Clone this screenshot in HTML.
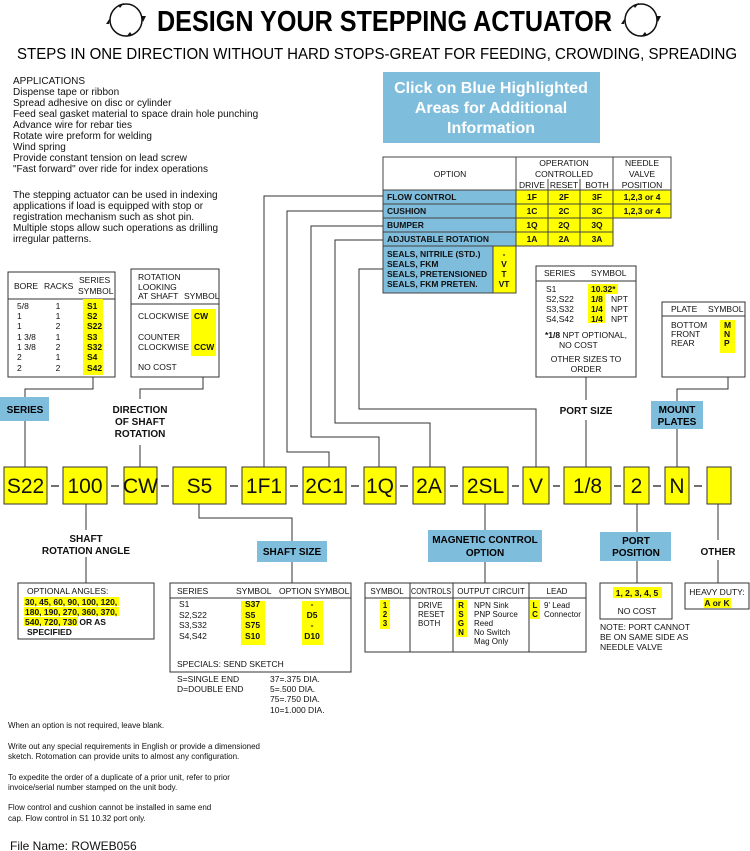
<!DOCTYPE html>
<html><head><meta charset="utf-8"><style>
html,body{margin:0;padding:0;background:#fff;}
svg{display:block;font-family:"Liberation Sans",Arial,sans-serif;}
.b{font-weight:bold}
</style></head><body>
<svg width="750" height="851" viewBox="0 0 750 851" xmlns="http://www.w3.org/2000/svg">
<rect width="750" height="851" fill="#fff"/>
<!-- title -->
<g fill="none" stroke="#111" stroke-width="1.5">
<circle cx="126" cy="20" r="16"/><circle cx="641" cy="20" r="16"/>
</g>
<g fill="#111">
<path d="M118,5 l6,-2 -4,5z"/><path d="M141,16 l2,6 3,-6z"/><path d="M132,35 l-6,2 4,-5z"/><path d="M109,24 l1,-6 -4,6z"/>
<path d="M633,5 l6,-2 -4,5z"/><path d="M656,16 l2,6 3,-6z"/><path d="M647,35 l-6,2 4,-5z"/><path d="M624,24 l1,-6 -4,6z"/>
</g>
<text x="157" y="31" font-size="29" class="b" textLength="455" lengthAdjust="spacingAndGlyphs">DESIGN YOUR STEPPING ACTUATOR</text>
<text x="17" y="59" font-size="16" textLength="720" lengthAdjust="spacingAndGlyphs">STEPS IN ONE DIRECTION WITHOUT HARD STOPS-GREAT FOR FEEDING, CROWDING, SPREADING</text>
<!-- applications -->
<g font-size="10" fill="#111">
<text x="13" y="84">APPLICATIONS</text>
<text x="13" y="95">Dispense tape or ribbon</text>
<text x="13" y="106">Spread adhesive on disc or cylinder</text>
<text x="13" y="117">Feed seal gasket material to space drain hole punching</text>
<text x="13" y="128">Advance wire for rebar ties</text>
<text x="13" y="139">Rotate wire preform for welding</text>
<text x="13" y="150">Wind spring</text>
<text x="13" y="161">Provide constant tension on lead screw</text>
<text x="13" y="172">"Fast forward" over ride for index operations</text>
<text x="13" y="198">The stepping actuator can be used in indexing</text>
<text x="13" y="209">applications if load is equipped with stop or</text>
<text x="13" y="220">registration mechanism such as shot pin.</text>
<text x="13" y="231">Multiple stops allow such operations as drilling</text>
<text x="13" y="242">irregular patterns.</text>
</g>
<!-- blue button -->
<rect x="383" y="72" width="217" height="71" fill="#7fbddc"/>
<g fill="#fff" font-size="16" class="b" text-anchor="middle">
<text x="491" y="93">Click on Blue Highlighted</text>
<text x="491" y="113">Areas for Additional</text>
<text x="491" y="133">Information</text>
</g>
<!-- option table -->
<g stroke="#444" stroke-width="1" fill="none">
<rect x="383" y="157" width="288" height="33"/>
<line x1="516" y1="157" x2="516" y2="190"/><line x1="613" y1="157" x2="613" y2="190"/>
<line x1="548" y1="179" x2="548" y2="190"/><line x1="580" y1="179" x2="580" y2="190"/>
</g>
<g font-size="8.5" text-anchor="middle" fill="#111">
<text x="450" y="177">OPTION</text>
<text x="564" y="166">OPERATION</text><text x="564" y="177">CONTROLLED</text>
<text x="532" y="188">DRIVE</text><text x="564" y="188">RESET</text><text x="597" y="188">BOTH</text>
<text x="642" y="166">NEEDLE</text><text x="642" y="177">VALVE</text><text x="642" y="188">POSITION</text>
</g>
<g stroke="#444" stroke-width="1">
<rect x="383" y="190" width="133" height="14" fill="#7fbddc"/>
<rect x="383" y="204" width="133" height="14" fill="#7fbddc"/>
<rect x="383" y="218" width="133" height="14" fill="#7fbddc"/>
<rect x="383" y="232" width="133" height="14" fill="#7fbddc"/>
<rect x="383" y="246" width="110" height="47" fill="#7fbddc"/>
<rect x="493" y="246" width="23" height="47" fill="#ffff00"/>
<rect x="516" y="190" width="32" height="14" fill="#ffff00"/><rect x="548" y="190" width="32" height="14" fill="#ffff00"/><rect x="580" y="190" width="33" height="14" fill="#ffff00"/><rect x="613" y="190" width="58" height="14" fill="#ffff00"/>
<rect x="516" y="204" width="32" height="14" fill="#ffff00"/><rect x="548" y="204" width="32" height="14" fill="#ffff00"/><rect x="580" y="204" width="33" height="14" fill="#ffff00"/><rect x="613" y="204" width="58" height="14" fill="#ffff00"/>
<rect x="516" y="218" width="32" height="14" fill="#ffff00"/><rect x="548" y="218" width="32" height="14" fill="#ffff00"/><rect x="580" y="218" width="33" height="14" fill="#ffff00"/>
<rect x="516" y="232" width="32" height="14" fill="#ffff00"/><rect x="548" y="232" width="32" height="14" fill="#ffff00"/><rect x="580" y="232" width="33" height="14" fill="#ffff00"/>
</g>
<g font-size="8.5" class="b" fill="#111">
<text x="387" y="200">FLOW CONTROL</text><text x="387" y="214">CUSHION</text><text x="387" y="228">BUMPER</text><text x="387" y="242">ADJUSTABLE ROTATION</text>
<text x="387" y="257">SEALS, NITRILE (STD.)</text><text x="387" y="267">SEALS, FKM</text><text x="387" y="277">SEALS, PRETENSIONED</text><text x="387" y="287">SEALS, FKM PRETEN.</text>
<g text-anchor="middle">
<text x="504" y="257">-</text><text x="504" y="267">V</text><text x="504" y="277">T</text><text x="504" y="287">VT</text>
<text x="532" y="200">1F</text><text x="564" y="200">2F</text><text x="597" y="200">3F</text><text x="642" y="200">1,2,3 or 4</text>
<text x="532" y="214">1C</text><text x="564" y="214">2C</text><text x="597" y="214">3C</text><text x="642" y="214">1,2,3 or 4</text>
<text x="532" y="228">1Q</text><text x="564" y="228">2Q</text><text x="597" y="228">3Q</text>
<text x="532" y="242">1A</text><text x="564" y="242">2A</text><text x="597" y="242">3A</text>
</g></g>
<!-- connectors -->
<g stroke="#333" stroke-width="1" fill="none">
<polyline points="383,196 264,196 264,467"/>
<polyline points="383,211 287,211 287,452 329,452 329,467"/>
<polyline points="383,226 311,226 311,437 379,437 379,467"/>
<polyline points="383,240 335,240 335,423 430,423 430,467"/>
<polyline points="383,269 359,269 359,409 536,409 536,467"/>
<line x1="586" y1="377" x2="586" y2="400"/><line x1="586" y1="420" x2="586" y2="467"/>
<polyline points="728,377 728,389 677,389 677,401"/><line x1="677" y1="429" x2="677" y2="467"/>
<polyline points="93,377 93,389 25,389 25,397"/><line x1="25" y1="421" x2="25" y2="467"/>
<polyline points="203,377 203,389 140,389 140,399"/><line x1="140" y1="445" x2="140" y2="467"/>
<line x1="86" y1="504" x2="86" y2="530"/><line x1="86" y1="557" x2="86" y2="583"/>
<polyline points="199,504 199,518 292,518 292,541"/><line x1="292" y1="562" x2="292" y2="583"/>
<line x1="485" y1="504" x2="485" y2="530"/><line x1="485" y1="562" x2="485" y2="583"/>
<line x1="637" y1="504" x2="637" y2="532"/><line x1="637" y1="561" x2="637" y2="583"/>
<line x1="718" y1="504" x2="718" y2="540"/><line x1="718" y1="560" x2="718" y2="583"/>
</g>
<!-- series box -->
<rect x="8" y="272" width="107" height="105" fill="#fff" stroke="#333"/>
<line x1="8" y1="299" x2="115" y2="299" stroke="#333"/>
<rect x="83" y="299" width="20" height="76" fill="#ffff00"/>
<g font-size="8.5" fill="#111">
<text x="14" y="289">BORE</text><text x="44" y="289">RACKS</text><text x="79" y="283">SERIES</text><text x="78" y="294">SYMBOL</text>
<text x="17" y="309">5/8</text><text x="17" y="319">1</text><text x="17" y="329">1</text><text x="17" y="340">1 3/8</text><text x="17" y="350">1 3/8</text><text x="17" y="360">2</text><text x="17" y="371">2</text>
<g text-anchor="middle"><text x="58" y="309">1</text><text x="58" y="319">1</text><text x="58" y="329">2</text><text x="58" y="340">1</text><text x="58" y="350">2</text><text x="58" y="360">1</text><text x="58" y="371">2</text></g>
<g class="b"><text x="87" y="309">S1</text><text x="87" y="319">S2</text><text x="87" y="329">S22</text><text x="87" y="340">S3</text><text x="87" y="350">S32</text><text x="87" y="360">S4</text><text x="87" y="371">S42</text></g>
</g>
<!-- rotation box -->
<rect x="131" y="269" width="88" height="108" fill="#fff" stroke="#333"/>
<line x1="131" y1="304" x2="219" y2="304" stroke="#333"/>
<rect x="191" y="309" width="25" height="47" fill="#ffff00"/>
<g font-size="8.5" fill="#111">
<text x="138" y="280">ROTATION</text><text x="138" y="290">LOOKING</text><text x="138" y="299">AT SHAFT</text><text x="184" y="299">SYMBOL</text>
<text x="138" y="319">CLOCKWISE</text><text x="194" y="319" class="b">CW</text>
<text x="138" y="340">COUNTER</text><text x="138" y="350">CLOCKWISE</text><text x="194" y="350" class="b">CCW</text>
<text x="138" y="370">NO COST</text>
</g>
<!-- port size box -->
<rect x="536" y="266" width="100" height="111" fill="#fff" stroke="#333"/>
<line x1="536" y1="281" x2="636" y2="281" stroke="#333"/>
<rect x="588" y="284" width="30" height="10" fill="#ffff00"/><rect x="588" y="294" width="17" height="29" fill="#ffff00"/>
<g font-size="8.5" fill="#111">
<text x="544" y="276">SERIES</text><text x="591" y="276">SYMBOL</text>
<text x="546" y="292">S1</text><text x="546" y="302">S2,S22</text><text x="546" y="312">S3,S32</text><text x="546" y="322">S4,S42</text>
<g class="b"><text x="591" y="292">10.32*</text><text x="591" y="302">1/8</text><text x="591" y="312">1/4</text><text x="591" y="322">1/4</text></g>
<text x="611" y="302">NPT</text><text x="611" y="312">NPT</text><text x="611" y="322">NPT</text>
<text x="545" y="338"><tspan class="b">*1/8</tspan>  NPT OPTIONAL,</text><text x="559" y="348">NO COST</text>
<text x="586" y="362" text-anchor="middle">OTHER SIZES TO</text><text x="586" y="372" text-anchor="middle">ORDER</text>
</g>
<!-- plate box -->
<rect x="662" y="302" width="83" height="75" fill="#fff" stroke="#333"/>
<line x1="662" y1="316" x2="745" y2="316" stroke="#333"/>
<rect x="720" y="320" width="15" height="33" fill="#ffff00"/>
<g font-size="8.5" fill="#111">
<text x="671" y="312">PLATE</text><text x="708" y="312">SYMBOL</text>
<text x="671" y="328">BOTTOM</text><text x="671" y="337">FRONT</text><text x="671" y="346">REAR</text>
<g class="b"><text x="724" y="328">M</text><text x="724" y="337">N</text><text x="724" y="346">P</text></g>
</g>
<!-- labels -->
<rect x="0" y="397" width="49" height="24" fill="#7fbddc"/>
<text x="25" y="413" font-size="10" class="b" text-anchor="middle">SERIES</text>
<g font-size="10" class="b" text-anchor="middle" fill="#111">
<text x="140" y="413">DIRECTION</text><text x="140" y="425">OF SHAFT</text><text x="140" y="437">ROTATION</text>
<text x="586" y="414">PORT SIZE</text>
</g>
<rect x="651" y="401" width="52" height="28" fill="#7fbddc"/>
<g font-size="10" class="b" text-anchor="middle"><text x="677" y="413">MOUNT</text><text x="677" y="425">PLATES</text></g>
<!-- main row -->
<g stroke="#333" stroke-width="1" fill="#ffff00">
<rect x="4" y="467" width="43" height="37"/><rect x="63" y="467" width="44" height="37"/><rect x="124" y="467" width="33" height="37"/>
<rect x="173" y="467" width="53" height="37"/><rect x="242" y="467" width="44" height="37"/><rect x="303" y="467" width="43" height="37"/>
<rect x="364" y="467" width="32" height="37"/><rect x="413" y="467" width="32" height="37"/><rect x="463" y="467" width="45" height="37"/>
<rect x="523" y="467" width="26" height="37"/><rect x="564" y="467" width="47" height="37"/><rect x="624" y="467" width="25" height="37"/>
<rect x="665" y="467" width="24" height="37"/><rect x="707" y="467" width="24" height="37"/>
</g>
<g stroke="#111" stroke-width="1.2">
<line x1="51" y1="486" x2="59" y2="486"/><line x1="111" y1="486" x2="119" y2="486"/><line x1="161" y1="486" x2="169" y2="486"/>
<line x1="230" y1="486" x2="238" y2="486"/><line x1="290" y1="486" x2="298" y2="486"/><line x1="351" y1="486" x2="359" y2="486"/>
<line x1="400" y1="486" x2="408" y2="486"/><line x1="450" y1="486" x2="458" y2="486"/><line x1="512" y1="486" x2="519" y2="486"/>
<line x1="553" y1="486" x2="560" y2="486"/><line x1="614" y1="486" x2="621" y2="486"/><line x1="653" y1="486" x2="661" y2="486"/>
<line x1="694" y1="486" x2="702" y2="486"/>
</g>
<g font-size="21" text-anchor="middle" fill="#111">
<text x="25.5" y="493">S22</text><text x="85" y="493">100</text><text x="140.5" y="493">CW</text><text x="199.5" y="493">S5</text>
<text x="264" y="493">1F1</text><text x="324.5" y="493">2C1</text><text x="380" y="493">1Q</text><text x="429" y="493">2A</text>
<text x="485.5" y="493">2SL</text><text x="536" y="493">V</text><text x="587.5" y="493">1/8</text><text x="636.5" y="493">2</text>
<text x="677" y="493">N</text>
</g>
<!-- lower labels -->
<g font-size="10" class="b" text-anchor="middle" fill="#111">
<text x="86" y="542">SHAFT</text><text x="86" y="554">ROTATION ANGLE</text>
<text x="718" y="555">OTHER</text>
</g>
<rect x="257" y="541" width="70" height="21" fill="#7fbddc"/>
<text x="292" y="555" font-size="10" class="b" text-anchor="middle">SHAFT SIZE</text>
<rect x="428" y="530" width="114" height="32" fill="#7fbddc"/>
<g font-size="10" class="b" text-anchor="middle"><text x="485" y="543">MAGNETIC CONTROL</text><text x="485" y="556">OPTION</text></g>
<rect x="600" y="532" width="71" height="29" fill="#7fbddc"/>
<g font-size="10" class="b" text-anchor="middle"><text x="636" y="544">PORT</text><text x="636" y="556">POSITION</text></g>
<!-- optional angles -->
<rect x="18" y="583" width="136" height="56" fill="#fff" stroke="#333"/>
<rect x="24" y="597" width="95" height="9" fill="#ffff00"/><rect x="24" y="607" width="95" height="9" fill="#ffff00"/><rect x="24" y="617" width="54" height="9" fill="#ffff00"/>
<g font-size="8.5" fill="#111">
<text x="27" y="594">OPTIONAL ANGLES:</text>
<g class="b"><text x="25" y="605">30, 45, 60, 90, 100, 120,</text><text x="25" y="615">180, 190, 270, 360, 370,</text><text x="25" y="625">540, 720, 730 OR AS</text><text x="27" y="635">SPECIFIED</text></g>
</g>
<!-- shaft table -->
<rect x="170" y="583" width="181" height="89" fill="#fff" stroke="#333"/>
<line x1="170" y1="598" x2="351" y2="598" stroke="#333"/>
<rect x="241" y="601" width="24" height="44" fill="#ffff00"/><rect x="302" y="601" width="21" height="44" fill="#ffff00"/>
<g font-size="8.5" fill="#111">
<text x="177" y="594">SERIES</text><text x="236" y="594">SYMBOL</text><text x="279" y="594">OPTION SYMBOL</text>
<text x="179" y="607">S1</text><text x="179" y="618">S2,S22</text><text x="179" y="628">S3,S32</text><text x="179" y="639">S4,S42</text>
<g class="b"><text x="245" y="607">S37</text><text x="245" y="618">S5</text><text x="245" y="628">S75</text><text x="245" y="639">S10</text>
<g text-anchor="middle"><text x="312" y="607">-</text><text x="312" y="618">D5</text><text x="312" y="628">-</text><text x="312" y="639">D10</text></g></g>
<text x="177" y="667">SPECIALS: SEND SKETCH</text>
<text x="177" y="682">S=SINGLE END</text><text x="177" y="692">D=DOUBLE END</text>
<text x="270" y="682">37=.375 DIA.</text><text x="270" y="692">5=.500 DIA.</text><text x="270" y="702">75=.750 DIA.</text><text x="270" y="713">10=1.000 DIA.</text>
</g>
<!-- mag table -->
<rect x="365" y="583" width="221" height="69" fill="#fff" stroke="#333"/>
<g stroke="#333"><line x1="365" y1="598" x2="586" y2="598"/><line x1="410" y1="583" x2="410" y2="652"/><line x1="453" y1="583" x2="453" y2="652"/><line x1="529" y1="583" x2="529" y2="652"/></g>
<rect x="380" y="600" width="10" height="29" fill="#ffff00"/><rect x="456" y="600" width="11" height="37" fill="#ffff00"/><rect x="530" y="600" width="10" height="19" fill="#ffff00"/>
<g font-size="8" fill="#111">
<g text-anchor="middle"><text x="387" y="594">SYMBOL</text><text x="431" y="594" textLength="40" lengthAdjust="spacingAndGlyphs">CONTROLS</text><text x="491" y="594">OUTPUT CIRCUIT</text><text x="557" y="594">LEAD</text>
<g class="b"><text x="385" y="608">1</text><text x="385" y="617">2</text><text x="385" y="626">3</text>
<text x="461" y="608">R</text><text x="461" y="617">S</text><text x="461" y="626">G</text><text x="461" y="635">N</text>
<text x="535" y="608">L</text><text x="535" y="617">C</text></g></g>
<text x="418" y="608">DRIVE</text><text x="418" y="617">RESET</text><text x="418" y="626">BOTH</text>
<text x="474" y="608">NPN Sink</text><text x="474" y="617">PNP Source</text><text x="474" y="626">Reed</text><text x="474" y="635">No Switch</text><text x="474" y="644">Mag Only</text>
<text x="544" y="608">9' Lead</text><text x="544" y="617">Connector</text>
</g>
<!-- port position box -->
<rect x="600" y="583" width="72" height="36" fill="#fff" stroke="#333"/>
<rect x="613" y="587" width="49" height="11" fill="#ffff00"/>
<g font-size="8.5" fill="#111">
<text x="637" y="596" text-anchor="middle" class="b">1, 2, 3, 4, 5</text>
<text x="637" y="614" text-anchor="middle">NO COST</text>
<text x="600" y="630">NOTE: PORT CANNOT</text><text x="600" y="640">BE ON SAME SIDE AS</text><text x="600" y="650">NEEDLE VALVE</text>
</g>
<rect x="685" y="583" width="64" height="26" fill="#fff" stroke="#333"/>
<rect x="704" y="598" width="27" height="10" fill="#ffff00"/>
<g font-size="8.5" fill="#111" text-anchor="middle"><text x="717" y="595">HEAVY DUTY:</text><text x="717" y="606" class="b">A or K</text></g>
<!-- bottom notes -->
<g font-size="8" fill="#111">
<text x="8" y="728">When an option is not required, leave blank.</text>
<text x="8" y="749">Write out any special requirements in English or provide a dimensioned</text>
<text x="8" y="759">sketch. Rotomation can provide units to almost any configuration.</text>
<text x="8" y="780">To expedite the order of a duplicate of a prior unit, refer to prior</text>
<text x="8" y="790">invoice/serial number stamped on the unit body.</text>
<text x="8" y="810">Flow control and cushion cannot be installed in same end</text>
<text x="8" y="821">cap. Flow control in S1 10.32 port only.</text>
</g>
<text x="10" y="850" font-size="12" fill="#111">File Name: ROWEB056</text>
</svg>
</body></html>
